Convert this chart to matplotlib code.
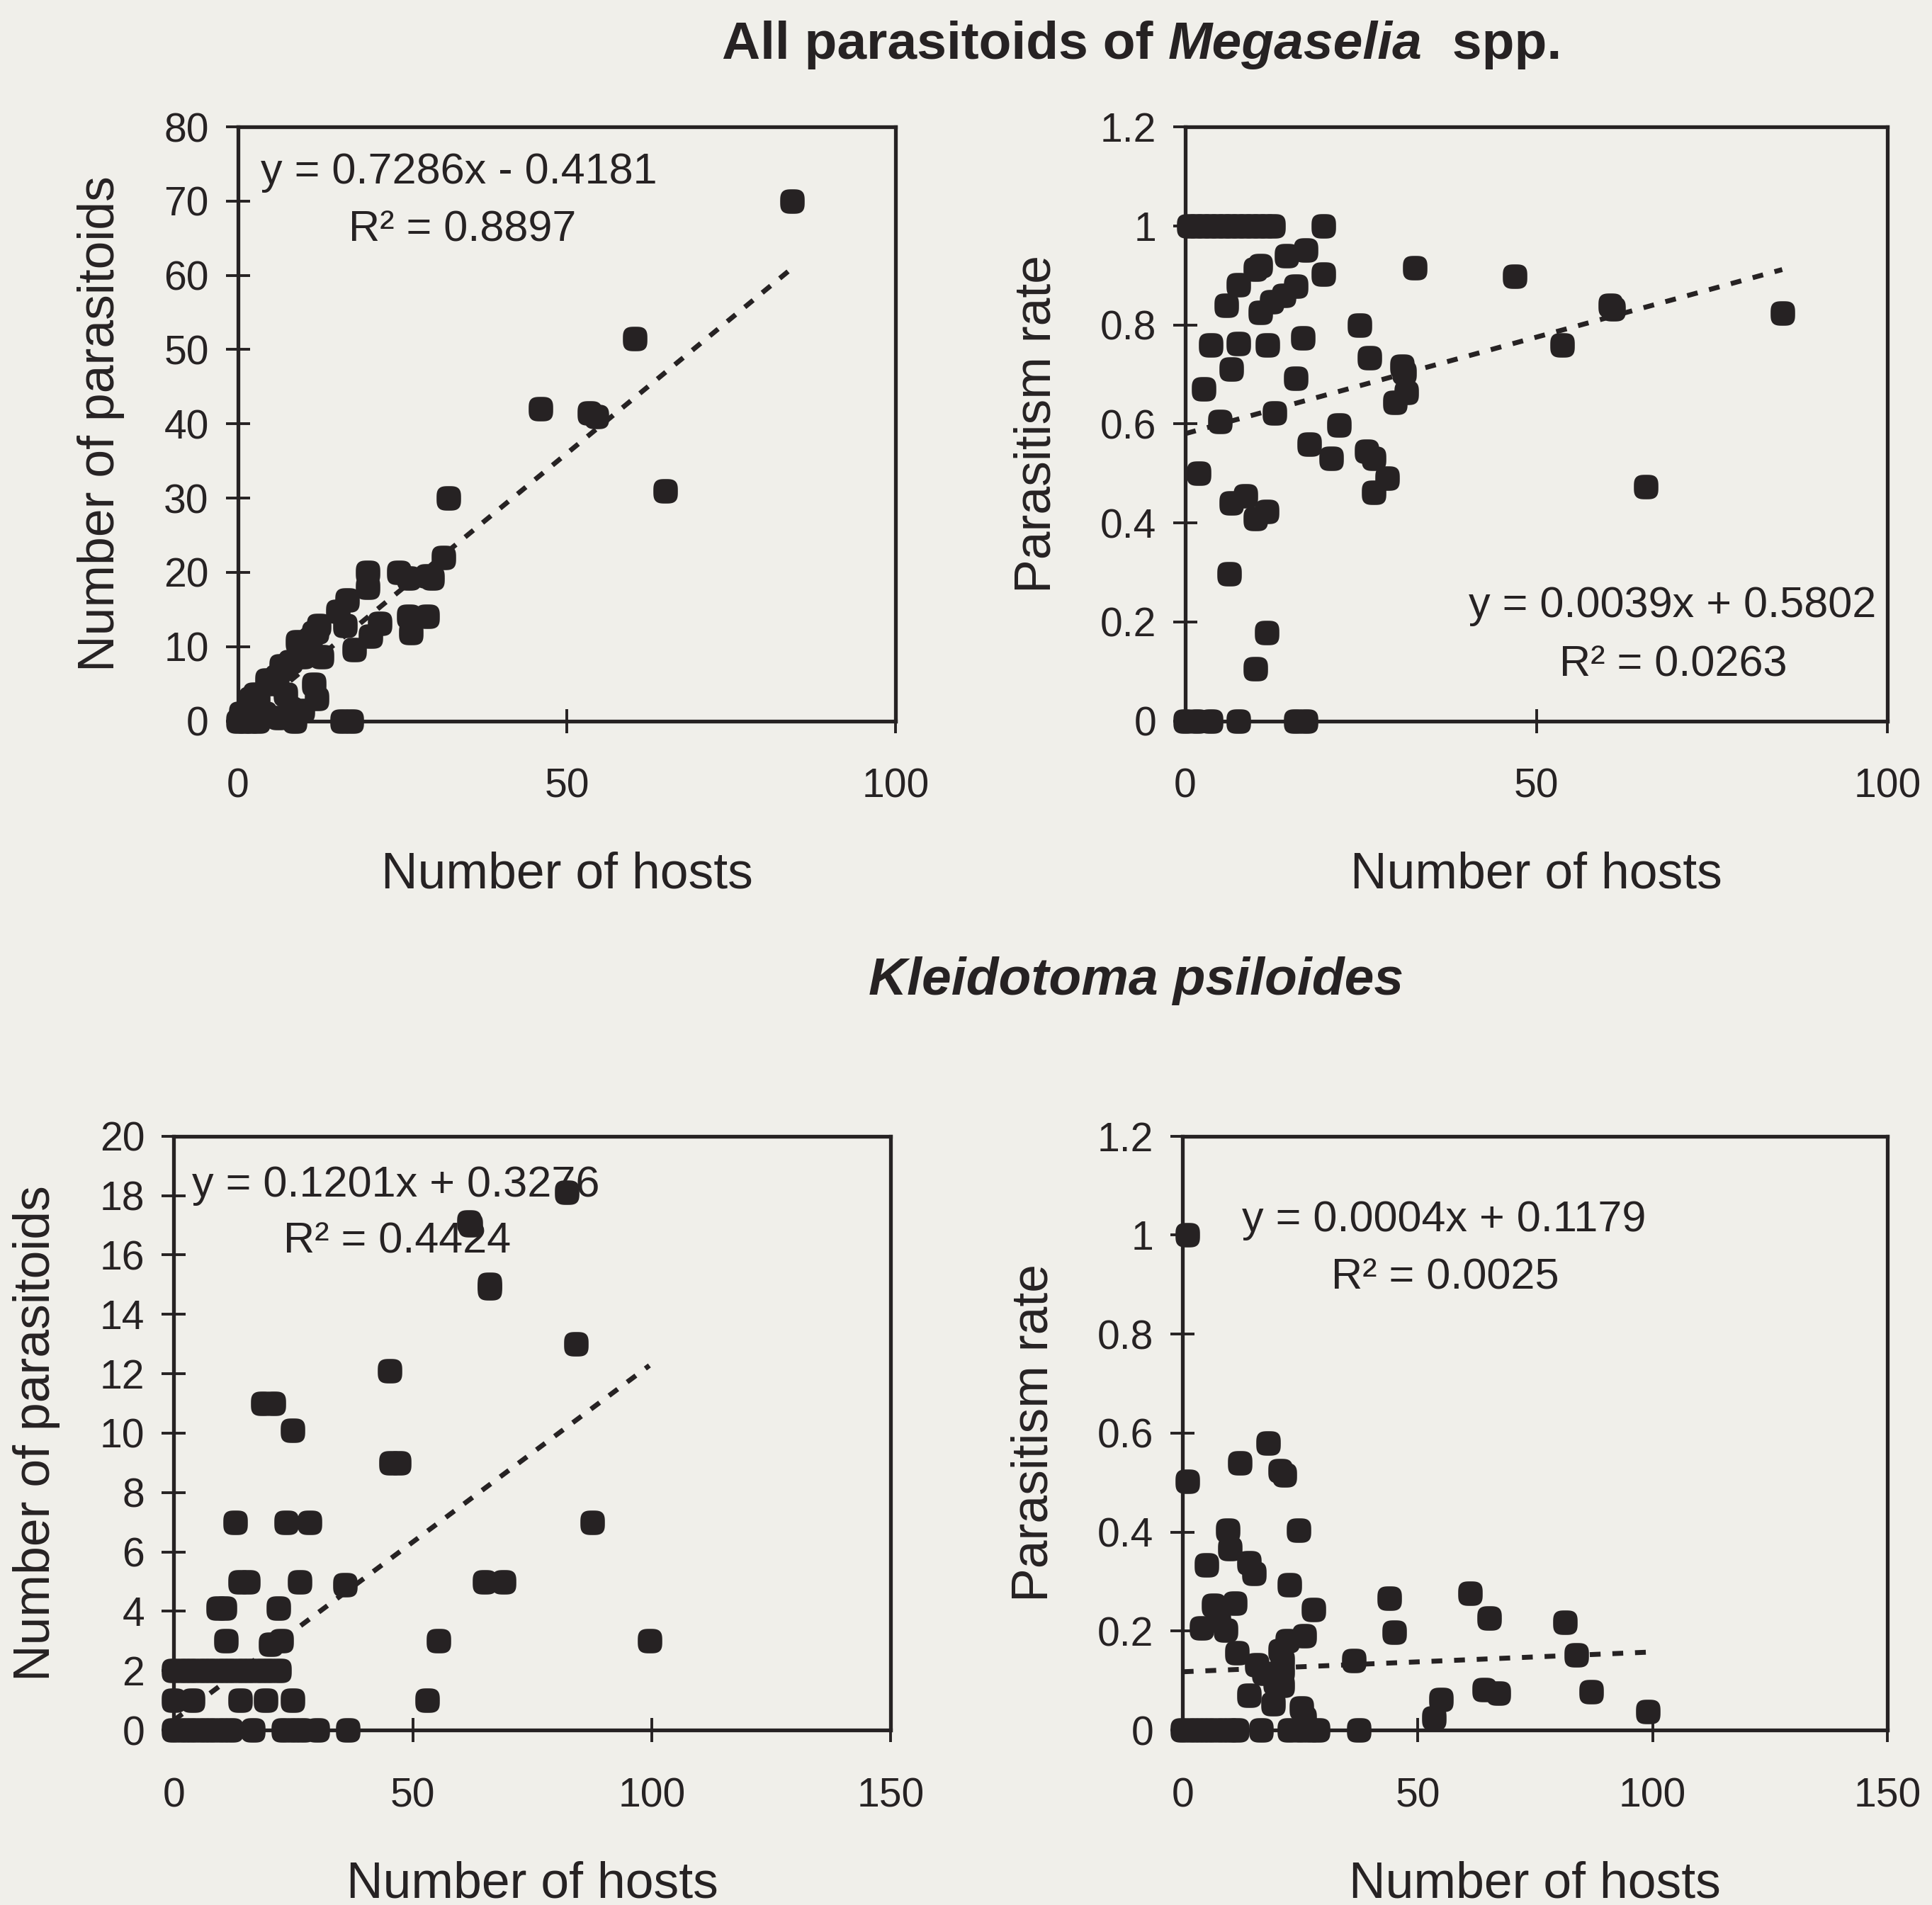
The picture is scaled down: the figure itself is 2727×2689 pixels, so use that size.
import numpy as np
import matplotlib
matplotlib.use("Agg")
import matplotlib.pyplot as plt
from matplotlib.path import Path

plt.rcParams['font.family'] = ['Liberation Sans', 'DejaVu Sans']

# ---------------- data ----------------
# All parasitoids of Megaselia spp. : number of hosts vs number of parasitoids
tl_hosts = [0, 1, 2, 3, 4, 0.5, 1, 2, 3, 5, 6, 7, 2, 2.6, 4.4, 5.9, 6.6, 8,
            9.1, 9.8, 7.3, 8, 9.8, 6.2, 8.7, 3.7, 10, 11, 12, 11.6, 12, 11.6,
            12.3, 12.7, 15.2, 16.6, 16.3, 17.7, 20.2, 21.6, 19.7, 19.7, 24.5,
            26, 28.8, 29.5, 31.3, 26, 28.8, 26.3, 15.9, 17.3, 32, 46, 53.4,
            54.5, 60.3, 65, 84.2]
tl_paras = [0, 0, 0, 0, 1, 1, 1, 2, 3, 5, 6, 7, 3, 3.6, 5.5, 5.8, 7.4, 8,
            10.6, 8.6, 3.6, 1.7, 1.4, 0.4, 0, 0.7, 10, 11, 12, 4.9, 3, 11.9,
            12.8, 8.6, 14.7, 16.3, 12.8, 9.6, 11.4, 13.1, 20, 18, 20,
            19.2, 19.5, 19.2, 22, 14.1, 14.1, 11.9, 0, 0, 30, 42, 41.5,
            41, 51.5, 31, 70]

# All parasitoids of Megaselia spp. : number of hosts vs parasitism rate
tr_hosts = [0.5, 1.5, 2.5, 3.5, 4.5, 5.5, 6.5, 7.5, 8.5, 9.5, 10.5, 11.5, 12.5,
            19.7, 32.7, 5.9, 7.6, 10, 10.7, 14.4, 17.1, 19.7, 10.7, 12.3, 14,
            15.7, 3.6, 7.6, 11.7, 16.7, 6.6, 2.6, 15.7, 24.8, 26.2, 30.9, 31.2,
            31.5, 29.9, 4.9, 12.7, 21.9, 17.7, 20.8, 25.8, 26.8, 28.8, 26.8,
            1.9, 6.6, 8.6, 10, 11.6, 6.3, 11.6, 10, 0, 1.6, 3.6, 7.6, 15.7,
            17.1, 46.9, 60.5, 60.9, 85, 53.7, 65.6]
tr_rate = [1, 1, 1, 1, 1, 1, 1, 1, 1, 1, 1, 1, 1,
           1.0, 0.916, 0.839, 0.881, 0.913, 0.92, 0.94, 0.951, 0.902, 0.825,
           0.846, 0.86, 0.878, 0.759, 0.762, 0.759, 0.773, 0.71, 0.671, 0.692,
           0.80, 0.734, 0.717, 0.703, 0.664, 0.643, 0.605, 0.622, 0.598,
           0.559, 0.531, 0.545, 0.531, 0.49, 0.462, 0.5, 0.44, 0.455, 0.409,
           0.423, 0.297, 0.178, 0.105, 0, 0, 0, 0, 0, 0, 0.898, 0.84, 0.833,
           0.824, 0.76, 0.473]

# Kleidotoma psiloides : number of hosts vs number of parasitoids
bl_hosts = [82.2, 61.7, 62, 66, 66, 84.2, 45.1, 18.6, 20.8, 24.8, 45.4, 47.1,
            12.9, 23.5, 28.5, 87.5, 13.9, 15.6, 26.3, 35.8, 65, 69, 9.3, 10.6,
            21.9, 10.9, 20.3, 22.5, 55.4, 99.5, 53,
            0, 2, 4, 6, 8, 10, 12, 14, 16, 18, 20, 22,
            0, 4, 13.9, 19.2, 24.8,
            0, 2, 4, 6, 8, 10, 12, 16.6, 23, 25, 27, 30, 36.5]
bl_paras = [18.1, 17.1, 17, 15, 14.9, 13, 12.1, 11, 11, 10.1, 9, 9,
            7, 7, 7, 7, 5, 5, 5, 4.9, 5, 5, 4.1, 4.1,
            4.1, 3, 2.9, 3, 3, 3, 1,
            2, 2, 2, 2, 2, 2, 2, 2, 2, 2, 2, 2,
            1, 1, 1, 1, 1,
            0, 0, 0, 0, 0, 0, 0, 0, 0, 0, 0, 0, 0]

# Kleidotoma psiloides : number of hosts vs parasitism rate
br_hosts = [1, 1, 18.2, 12.1, 20.7, 21.7, 9.6, 24.7, 5.1, 10.1, 14.1, 15.2,
            22.7, 6.6, 11.1, 7.6, 9.1, 4, 27.8, 25.8, 22.2, 20.7, 11.6, 15.7,
            17.2, 21.2, 21.2, 19.7, 21.2, 14.1, 19.2, 25.3, 25.8, 36.4, 43.9,
            45, 61.1, 65.2, 81.3, 83.8, 86.9, 64.1, 67.2, 55, 53.5, 99,
            0, 2, 4, 6, 8, 10, 11.6, 16.7, 22.7, 25, 27, 28.8, 37.4]
br_rate = [1.0, 0.503, 0.58, 0.54, 0.524, 0.515, 0.404, 0.404, 0.334, 0.367,
           0.338, 0.317, 0.293, 0.252, 0.256, 0.222, 0.202, 0.206, 0.243, 0.19,
           0.18, 0.16, 0.156, 0.132, 0.115, 0.14, 0.119, 0.095, 0.09, 0.07,
           0.053, 0.045, 0.025, 0.14, 0.267, 0.198, 0.276, 0.226, 0.218, 0.152,
           0.078, 0.082, 0.074, 0.062, 0.025, 0.037,
           0, 0, 0, 0, 0, 0, 0, 0, 0, 0, 0, 0, 0]

# trendline coefficients (as printed)
slopes = [0.7286, 0.0039, 0.1201, 0.0004]
intercepts = [-0.4181, 0.5802, 0.3276, 0.1179]
eq_texts = ["y = 0.7286x - 0.4181", "y = 0.0039x + 0.5802",
            "y = 0.1201x + 0.3276", "y = 0.0004x + 0.1179"]
r2_texts = ["R\u00b2 = 0.8897", "R\u00b2 = 0.0263",
            "R\u00b2 = 0.4424", "R\u00b2 = 0.0025"]

count_ticks = [0, 10, 20, 30, 40, 50, 60, 70, 80]
kleido_ticks = [0, 2, 4, 6, 8, 10, 12, 14, 16, 18, 20]
rate_ticks = [0, 0.2, 0.4, 0.6, 0.8, 1.0, 1.2]
rate_labels = ["0", "0.2", "0.4", "0.6", "0.8", "1", "1.2"]
x_ticks_top = [0, 50, 100]
x_ticks_bottom = [0, 50, 100, 150]

# ---------------- style ----------------
BG = '#f0efea'
INK = '#262223'
TICK_FS = 41
LABEL_FS = 51.5
EQ_FS = 44

t = np.linspace(0, 2 * np.pi, 80, endpoint=False)
nexp = 3.2
mx = np.sign(np.cos(t)) * np.abs(np.cos(t)) ** (2 / nexp)
my = np.sign(np.sin(t)) * np.abs(np.sin(t)) ** (2 / nexp)
verts = np.column_stack([mx, my])
verts = np.vstack([verts, verts[:1]])
codes = [Path.MOVETO] + [Path.LINETO] * (len(verts) - 2) + [Path.CLOSEPOLY]
rsq = Path(verts, codes)

fig = plt.figure(figsize=(27.27, 26.89), dpi=100, facecolor=BG)

ax_tl = fig.add_axes([0.1231, 0.6216, 0.3405, 0.3118])
ax_tr = fig.add_axes([0.6135, 0.6216, 0.3635, 0.3118])
ax_bl = fig.add_axes([0.0899, 0.0918, 0.3712, 0.3118])
ax_br = fig.add_axes([0.6122, 0.0918, 0.3648, 0.3118])

panels = [
    (ax_tl, tl_hosts, tl_paras, (0, 100), (0, 80), x_ticks_top, count_ticks,
     [str(v) for v in count_ticks], "Number of parasitoids"),
    (ax_tr, tr_hosts, tr_rate, (0, 100), (0, 1.2), x_ticks_top, rate_ticks,
     rate_labels, "Parasitism rate"),
    (ax_bl, bl_hosts, bl_paras, (0, 150), (0, 20), x_ticks_bottom, kleido_ticks,
     [str(v) for v in kleido_ticks], "Number of parasitoids"),
    (ax_br, br_hosts, br_rate, (0, 150), (0, 1.2), x_ticks_bottom, rate_ticks,
     rate_labels, "Parasitism rate"),
]

for i, (ax, xs, ys, xl, yl, xt, yt, ytl, ylab) in enumerate(panels):
    ax.set_facecolor(BG)
    ax.set_xlim(*xl)
    ax.set_ylim(*yl)
    ax.scatter(xs, ys, s=620, marker=rsq, color=INK, linewidths=0,
               clip_on=False, zorder=3)
    xa = np.array(xs, dtype=float)
    xline = np.array([xa.min(), xa.max()])
    ax.plot(xline, slopes[i] * xline + intercepts[i], color=INK, lw=5,
            linestyle=(0, (2.2, 2.4)), zorder=4, dash_capstyle='butt')
    ax.set_xticks(xt)
    ax.set_xticklabels([str(v) for v in xt])
    ax.set_yticks(yt)
    ax.set_yticklabels(ytl)
    for sp in ax.spines.values():
        sp.set_linewidth(3.8)
        sp.set_color(INK)
    ax.tick_params(direction='inout', length=25, width=2.8, colors=INK,
                   labelsize=TICK_FS, top=False, right=False)
    ax.tick_params(axis='x', pad=35)
    ax.tick_params(axis='y', pad=17)
    ax.set_xlabel("Number of hosts", fontsize=LABEL_FS, color=INK, labelpad=46)
    ax.set_ylabel(ylab, fontsize=LABEL_FS, color=INK, labelpad=40)

# equation annotations (figure coordinates)
eq_pos = [(0.2376, 0.9094, 0.2392, 0.8790),
          (0.8658, 0.6818, 0.8660, 0.6507),
          (0.2047, 0.3777, 0.2054, 0.3480),
          (0.7474, 0.3596, 0.7480, 0.3292)]
for (ex, ey, rx, ry), et, rt in zip(eq_pos, eq_texts, r2_texts):
    fig.text(ex, ey, et, fontsize=EQ_FS, color=INK, ha='center', va='center')
    fig.text(rx, ry, rt, fontsize=EQ_FS, color=INK, ha='center', va='center')


def rich_title(xc, y, pieces, size):
    renderer = fig.canvas.get_renderer()
    objs = []
    for s, style in pieces:
        objs.append(fig.text(0, y, s, fontsize=size, fontweight='bold',
                             style=style, color=INK, ha='left', va='baseline'))
    widths = [o.get_window_extent(renderer).width for o in objs]
    W = fig.bbox.width
    x = xc * W - sum(widths) / 2
    for o, w in zip(objs, widths):
        o.set_x(x / W)
        x += w


rich_title(0.591, 0.969, [("All parasitoids of ", 'normal'),
                          ("Megaselia", 'italic'),
                          ("  spp.", 'normal')], 54)
rich_title(0.588, 0.478, [("Kleidotoma psiloides", 'italic')], 54)

fig.savefig("out.png", dpi=100, facecolor=BG)
